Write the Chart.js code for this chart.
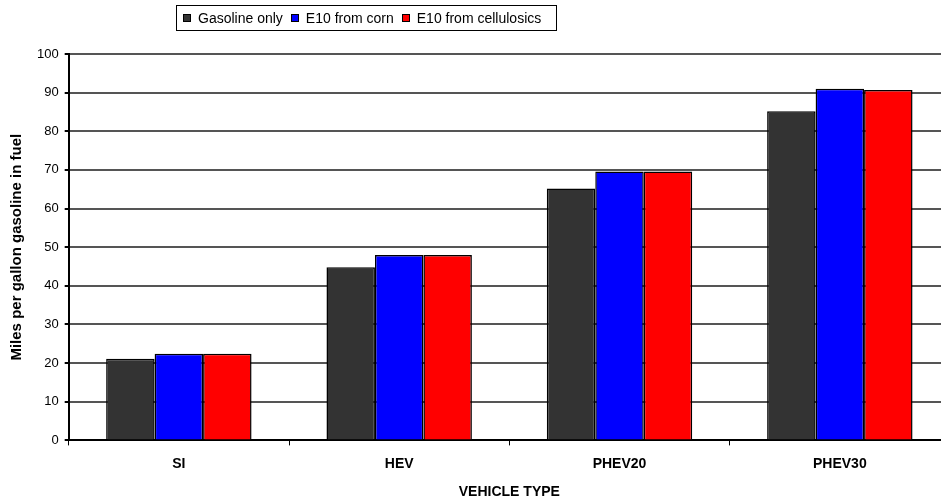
<!DOCTYPE html>
<html>
<head>
<meta charset="utf-8">
<script src="https://cdn.jsdelivr.net/npm/chart.js@4.4.1/dist/chart.umd.min.js"></script>
<style>
  html, body { margin: 0; padding: 0; background: #fff; overflow: hidden; }
  #wrap { position: relative; width: 941px; height: 501px; overflow: hidden; }
  #chart { position: absolute; left: 0; top: 0; }
  #legend {
    position: absolute; left: 176px; top: 5px; height: 24px;
    border: 1px solid #000; padding: 0 15px 0 6px;
    font: 14px "Liberation Sans", Arial, sans-serif; color: #000;
    display: flex; align-items: center; white-space: nowrap;
  }
  #legend span.item { display: inline-flex; align-items: center; margin-right: 8px; }
  #legend span.item:last-child { margin-right: 0; }
  #legend i { display: inline-block; width: 6px; height: 6px; border: 1px solid #000; margin-right: 7px; }
</style>
</head>
<body>
<div id="wrap">
  <canvas id="chart" width="955" height="501"></canvas>
  <div id="legend"></div>
</div>
<script>
// Data
const categories = ["SI", "HEV", "PHEV20", "PHEV30"];
const seriesNames = ["Gasoline only", "E10 from corn", "E10 from cellulosics"];
const gasolineOnly = [21.1, 44.8, 65.2, 85.2];
const e10Corn = [22.4, 48.0, 69.6, 91.0];
const e10Cellulosics = [22.4, 48.0, 69.6, 90.7];
const seriesColors = ["#333333", "#0000ff", "#ff0000"];
const yTicks = [0, 10, 20, 30, 40, 50, 60, 70, 80, 90, 100];

const seriesValues = [gasolineOnly, e10Corn, e10Cellulosics];

// Legend (html, boxed like the original)
const legendEl = document.getElementById('legend');
seriesNames.forEach((name, i) => {
  const item = document.createElement('span');
  item.className = 'item';
  const sw = document.createElement('i');
  sw.style.background = seriesColors[i];
  item.appendChild(sw);
  item.appendChild(document.createTextNode(name));
  legendEl.appendChild(item);
});

const font = "'Liberation Sans', Arial, sans-serif";

new Chart(document.getElementById('chart').getContext('2d'), {
  type: 'bar',
  data: {
    labels: categories,
    datasets: seriesNames.map((name, i) => ({
      label: name,
      data: seriesValues[i],
      backgroundColor: seriesColors[i],
      borderColor: '#000',
      borderWidth: 1.5,
      categoryPercentage: 0.66,
      barPercentage: 1.0
    }))
  },
  options: {
    responsive: false,
    animation: false,
    layout: { padding: { top: 54, left: 8, right: 5, bottom: 0 } },
    plugins: {
      legend: { display: false },
      tooltip: { enabled: false }
    },
    scales: {
      x: {
        grid: {
          offset: true,
          drawOnChartArea: false,
          drawTicks: true,
          tickLength: 5,
          color: '#000'
        },
        border: { color: '#000', width: 2 },
        ticks: {
          color: '#000',
          font: { family: font, size: 14, weight: 'bold' },
          padding: 10
        },
        title: {
          display: true,
          text: 'VEHICLE TYPE',
          color: '#000',
          font: { family: font, size: 14, weight: 'bold' },
          padding: { top: 2, bottom: 0 }
        }
      },
      y: {
        min: 0,
        max: 100,
        afterBuildTicks: (axis) => { axis.ticks = yTicks.map(v => ({ value: v })); },
        grid: {
          color: '#555',
          lineWidth: 2,
          drawTicks: true,
          tickLength: 4,
          tickColor: '#000'
        },
        border: { color: '#000', width: 2 },
        ticks: {
          color: '#000',
          font: { family: font, size: 13 },
          padding: 6
        },
        title: {
          display: true,
          text: 'Miles per gallon gasoline in fuel',
          color: '#000',
          font: { family: font, size: 15, weight: 'bold' },
          padding: { top: 0, bottom: 5 }
        }
      }
    }
  }
});
</script>
</body>
</html>
